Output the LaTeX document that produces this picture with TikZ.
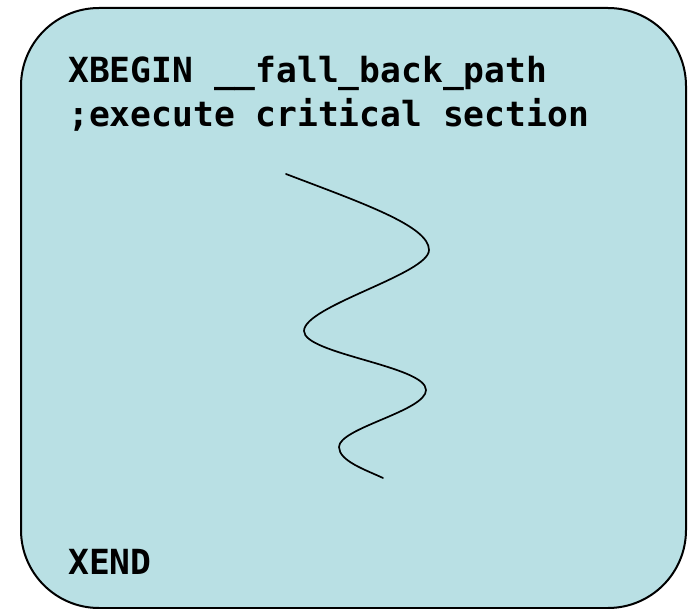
\documentclass[tikz,border=0pt]{standalone}
\usepackage{fontspec}
\setmonofont{DejaVu Sans Mono}
\usetikzlibrary{positioning}
\definecolor{txink}{HTML}{000000}
\definecolor{txpanel}{HTML}{B9E0E4}
\tikzset{
  tx panel/.style={draw=txink, line width=2pt, rounded corners=78pt, fill=txpanel,
    minimum width=665pt, minimum height=600pt, inner sep=0pt},
  tx code/.style={font=\fontsize{34.6}{44}\ttfamily\bfseries, text=txink,
    inner sep=0pt, anchor=base west},
  tx wave/.style={draw=txink, line width=1.7pt, line cap=round}
}

\begin{document}
\begin{tikzpicture}[x=1pt, y=-1pt]
  \useasboundingbox (0,0) rectangle (688,609);
  \node[tx panel] (panel) at (353.5,308) {};
  \node[tx code] (begin) at (68,82.5) {XBEGIN \_\_fall\_back\_path};
  \node[tx code] (exec) at (68,127) {;execute critical section};
  \node[tx code] (xend) at (68,574) {XEND};
  % the critical section itself
  \draw[tx wave] (286,174) .. controls (362,203) and (429,226) .. (429,250)
    .. controls (429,274) and (304,306) .. (304,331)
    .. controls (304,354) and (426,366) .. (426,390)
    .. controls (426,411) and (339,428) .. (339,447)
    .. controls (339,461) and (366,470) .. (383,478);
\end{tikzpicture}
\end{document}
